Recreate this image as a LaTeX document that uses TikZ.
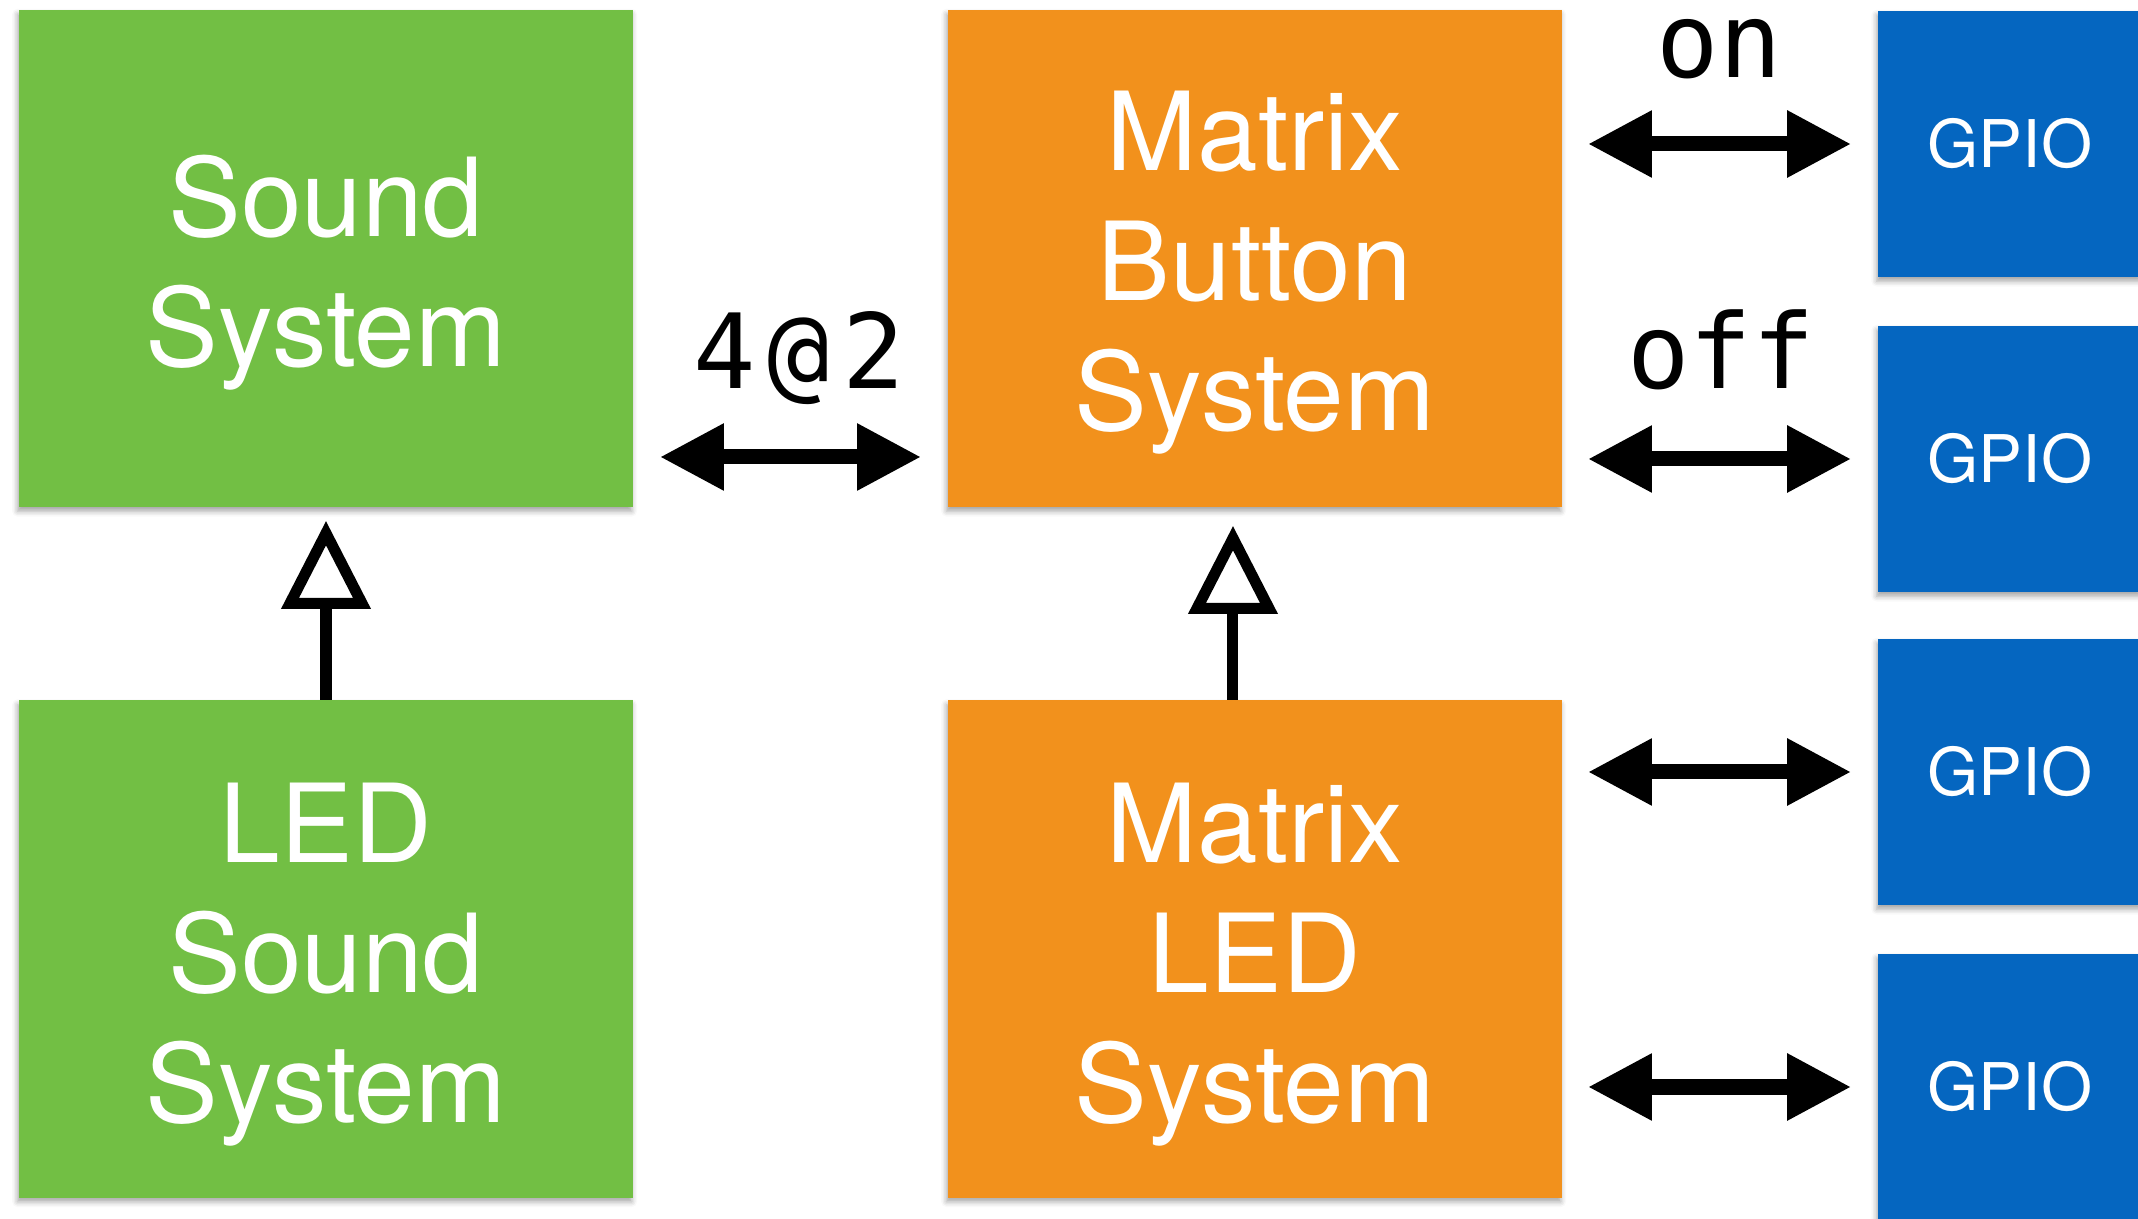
\documentclass[tikz,border=0pt]{standalone}
\usepackage{fontspec}
\setmainfont{TeX Gyre Heros}
\newfontfamily\monofont{DejaVu Sans Mono}
\usetikzlibrary{arrows.meta,shadows.blur}
\definecolor{boxgreen}{RGB}{114,191,68}
\definecolor{boxorange}{RGB}{242,145,28}
\definecolor{boxblue}{RGB}{5,102,192}
\tikzset{
  sysbox/.style={draw=none, inner sep=0pt,
    minimum width=6.14cm, minimum height=4.97cm,
    blur shadow={shadow xshift=-0.4pt, shadow yshift=-1.2pt, shadow blur radius=1.5pt, shadow opacity=35}},
  greenbox/.style={sysbox, fill=boxgreen},
  orangebox/.style={sysbox, fill=boxorange},
  boxtext/.style={inner sep=0pt, text=white, align=center,
    font=\fontsize{31}{37}\selectfont},
  gpiobox/.style={draw=none, fill=boxblue, inner sep=0pt, text=white,
    minimum width=2.64cm, minimum height=2.66cm,
    font=\fontsize{18.7}{23}\selectfont,
    blur shadow={shadow xshift=-0.4pt, shadow yshift=-1.2pt, shadow blur radius=1.5pt, shadow opacity=35}},
  dbl/.style={line width=0.15cm, {Triangle[length=0.64cm,width=0.63cm]}-{Triangle[length=0.64cm,width=0.63cm]}},
  inherit/.style={line width=0.11cm, -{Triangle[open,length=0.88cm,width=0.87cm,fill=white]}},
  lbl/.style={font=\monofont\fontsize{29.5}{35}\selectfont, anchor=base, inner sep=0pt}
}
\begin{document}
\begin{tikzpicture}[x=0.01cm,y=-0.01cm]
\useasboundingbox (0,0) rectangle (2138,1219);
\node[greenbox] (g1) at (326,258.5) {};
\node[greenbox] (g2) at (326,949) {};
\node[orangebox] (o1) at (1255,258.5) {};
\node[orangebox] (o2) at (1255,949) {};
\node[boxtext] (g1t) at ([yshift=-0.14cm]g1.center) {Sound\\System};
\node[boxtext] (g2t) at ([yshift=-0.16cm]g2.center) {LED\\Sound\\System};
\node[boxtext] (o1t) at ([yshift=-0.14cm]o1.center) {Matrix\\Button\\System};
\node[boxtext] (o2t) at ([yshift=-0.16cm]o2.center) {Matrix\\LED\\System};
\node[gpiobox] (b1) at (2010,144) {GPIO};
\node[gpiobox] (b2) at (2010,459) {GPIO};
\node[gpiobox] (b3) at (2010,772) {GPIO};
\node[gpiobox] (b4) at (2010,1087) {GPIO};
% connectors
\draw[dbl] ([shift={(26,198.5)}]g1.east) -- ([shift={(-26,198.5)}]o1.west);
\draw[dbl] ([xshift=0.25cm]o1.east |- b1.west) -- ([xshift=-0.26cm]b1.west);
\draw[dbl] ([xshift=0.25cm]o1.east |- b2.west) -- ([xshift=-0.26cm]b2.west);
\draw[dbl] ([xshift=0.25cm]o2.east |- b3.west) -- ([xshift=-0.26cm]b3.west);
\draw[dbl] ([xshift=0.25cm]o2.east |- b4.west) -- ([xshift=-0.26cm]b4.west);
\draw[inherit] (g2.north) -- ([yshift=-0.13cm]g1.south);
\draw[inherit] ([xshift=-0.22cm]o2.north) -- ([xshift=-0.22cm,yshift=-0.18cm]o1.south);
% labels
\node[lbl] (l42) at (799,389) {4\hspace{0.12cm}@\hspace{0.12cm}2};
\node[lbl] (lon) at (1719,78) {on};
\node[lbl] (loff) at (1721,389) {off};
\end{tikzpicture}
\end{document}
